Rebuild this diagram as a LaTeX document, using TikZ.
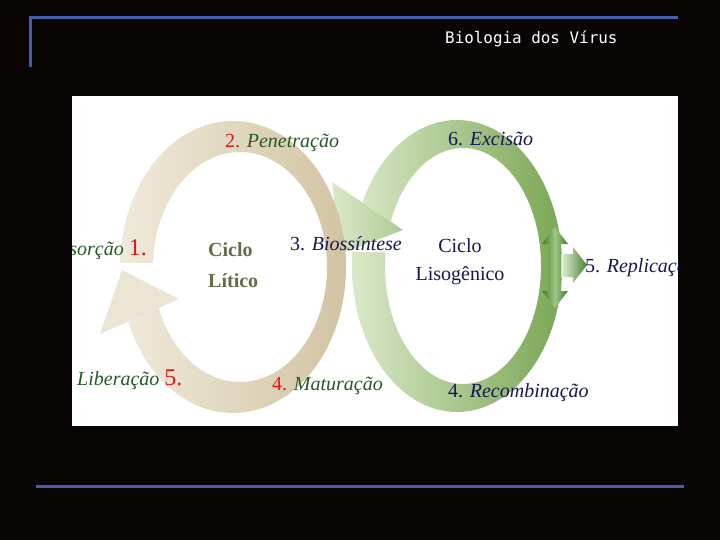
\documentclass[tikz,border=0pt]{standalone}
\usepackage{fontspec}
\setmainfont{Liberation Serif}
\newfontfamily\titlefont{DejaVu Sans Mono}
\usepackage{tikz,xcolor}
\usetikzlibrary{shadings}

\definecolor{slidebg}{RGB}{10,5,5}
\definecolor{rulecol}{RGB}{66,96,170}
\definecolor{beigeA}{RGB}{240,234,219}
\definecolor{beigeB}{RGB}{210,196,162}
\definecolor{greenA}{RGB}{218,232,200}
\definecolor{greenB}{RGB}{122,166,84}
\definecolor{greenD}{RGB}{62,124,48}
\definecolor{greenL}{RGB}{160,200,130}
\definecolor{txtgreen}{RGB}{40,88,40}
\definecolor{txtred}{RGB}{225,22,22}
\definecolor{txtnavy}{RGB}{22,22,82}
\definecolor{txtolive}{RGB}{105,105,75}

\begin{document}
\begin{tikzpicture}[x=1pt, y=-1pt, font=\fontsize{20}{22}\selectfont,
	lbl/.style={inner sep=0pt, anchor=base west}]

	\useasboundingbox (0,0) rectangle (720,540);
	\fill[slidebg] (0,0) rectangle (720,540);

	% slide frame and title
	\draw[rulecol, line width=3pt] (30,67) -- (30,18) -- (678,18);
	\draw[rulecol, line width=3pt] (36,486) -- (684,486);
	\node[lbl, text=white, font=\titlefont\fontsize{15.9}{17}\selectfont] (title) at (445,43.5) {Biologia dos Vírus};

	% picture area
	\fill[white] (72,96) rectangle (678,426);
	\begin{scope}
		\clip (72,96) rectangle (678,426);

		% lysogenic ring (green)
		\shade[even odd rule, left color=greenA, right color=greenB]
			(457,266) ellipse [x radius=105, y radius=146]
			(463,266) ellipse [x radius=78, y radius=118];
		\fill[white] (325,177.3) -- (420,241.5) -- (420,252) -- (325,252) -- cycle;
		\shade[left color=greenA, right color=greenA!55!greenB] (332,182) -- (403,230) -- (340,254) -- cycle;

		% lytic ring (beige)
		\shade[even odd rule, left color=beigeA, right color=beigeB]
			(233,267) ellipse [x radius=113, y radius=146]
			(240,267) ellipse [x radius=87, y radius=115];
		\fill[white] (72,263) -- (195,263) -- (195,291.9) -- (100,334) -- (72,346.4) -- cycle;
		\fill[beigeA!88!beigeB] (122,270) -- (179,299) -- (100,334) -- cycle;

		% replication arrows
		\shade[left color=greenA!70!white, right color=greenD!80!greenB]
			(561,254) -- (573,254) -- (573,247) -- (587,265) -- (573,283) -- (573,277) -- (561,277) -- cycle;
		\shade[left color=greenD, right color=greenD, middle color=greenL]
			(555,227) -- (568,244) -- (561,244) -- (561,291) -- (568,291) -- (555,308)
			-- (542,291) -- (549,291) -- (549,244) -- (542,244) -- cycle;

		% lytic labels
		\node[inner sep=0pt, anchor=base east] (adsorcao) at (147,255) {\textcolor{txtgreen}{\itshape Adsorção} \textcolor{txtred}{\fontsize{24}{26}\selectfont 1.}};
		\node[lbl] (penetracao) at (225,148) {\textcolor{txtred}{2.} \textcolor{txtgreen}{\itshape Penetração}};
		\node[lbl, align=left, text=txtolive, font=\bfseries\fontsize{20}{31}\selectfont] (litico) at (208,287) {Ciclo\\Lítico};
		\node[lbl, text=txtnavy] (biossintese) at (290,251) {3. \itshape Biossíntese};
		\node[lbl] (maturacao) at (272,390) {\textcolor{txtred}{4.} \textcolor{txtgreen}{\itshape Maturação}};
		\node[lbl] (liberacao) at (77,385) {\textcolor{txtgreen}{\itshape Liberação} \textcolor{txtred}{\fontsize{24}{26}\selectfont 5.}};

		% lysogenic labels
		\node[inner sep=0pt, anchor=base, align=center, text=txtnavy, font=\fontsize{20}{28}\selectfont] (lisogenico) at (460,280) {Ciclo\\Lisogênico};
		\node[lbl, text=txtnavy] (excisao) at (448,146) {6. \itshape Excisão};
		\node[lbl, text=txtnavy] (replicacao) at (585,272) {5. \itshape Replicação};
		\node[lbl, text=txtnavy] (recombinacao) at (448,397) {4. \itshape Recombinação};
	\end{scope}

\end{tikzpicture}
\end{document}
